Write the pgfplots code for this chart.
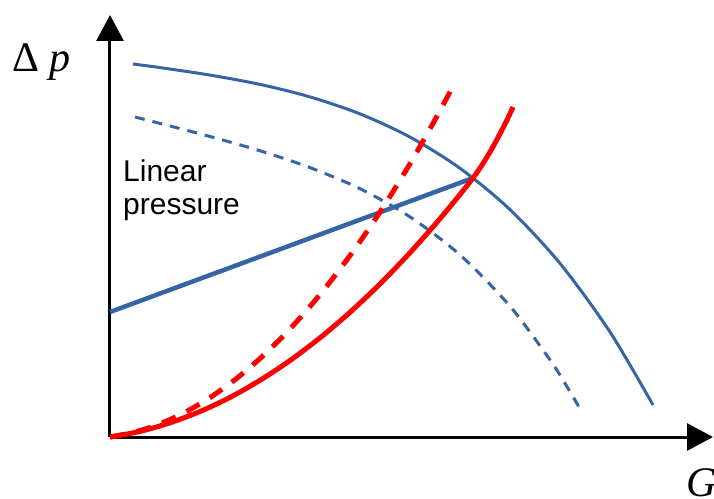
\documentclass[border=0pt]{standalone}
\usepackage{fontspec}
\setmainfont{Liberation Serif}
\newfontfamily\arial{Liberation Sans}
\usepackage{pgfplots}
\pgfplotsset{compat=1.18}
\usetikzlibrary{arrows.meta}
\definecolor{pumpblue}{RGB}{54,101,164}
\begin{document}
\begin{tikzpicture}
\begin{axis}[
    name=ax,
    scale only axis,
    width=603pt, height=422pt,
    xmin=0, xmax=603, ymin=0, ymax=422,
    axis lines=middle,
    axis line style={line width=3pt, -{Triangle[length=26pt,width=27pt]}},
    xtick=\empty, ytick=\empty,
    clip=false,
]
% pump curve, full speed
\addplot[pumpblue, line width=3pt, smooth] coordinates {
  (23,373) (50,369.4) (100,361.9) (150,352.6) (200,340.1) (250,323.1)
  (300,299.9) (350,268.7) (400,227.4) (450,173.6) (500,105) (543,32)};
% pump curve, reduced speed
\addplot[pumpblue, line width=3pt, smooth, dash pattern=on 10pt off 8pt] coordinates {
  (25,320) (50,313.6) (100,300.5) (150,286.2) (200,269.4) (250,248.3)
  (300,220.1) (350,182.1) (400,130.8) (440,77.1) (455,53.7) (469,30)};
% linear pressure line
\addplot[pumpblue, line width=4.5pt] coordinates {(0,125) (363,259)};
% system curve
\addplot[red, line width=5pt, smooth] coordinates {
  (0,0) (30,5.6) (60,14.2) (90,25.5) (120,39.6) (150,56.7) (180,76.5)
  (210,99.2) (240,124.7) (270,153.1) (300,184.3) (330,218.3) (363,259)
  (380,285) (395,313) (403,330)};
% system curve, throttled
\addplot[red, line width=5pt, smooth, dash pattern=on 15pt off 12pt] coordinates {
  (0,0) (25,5) (50,13.2) (75,24.7) (100,39.4) (125,57.3) (150,78.5)
  (175,102.8) (200,130.5) (225,161.4) (250,195.4) (275,232.7) (300,273.3)
  (325,317.2) (345,354.5)};
\node[anchor=base west, inner sep=0pt, font=\fontsize{42}{46}\selectfont] at (axis cs:-98,365) {Δ \textit{p}};
\node[anchor=base west, inner sep=0pt, font=\fontsize{42}{46}\selectfont] at (axis cs:576,-59) {\textit{G}};
\node[anchor=base west, inner sep=0pt, font=\arial\fontsize{30}{33}\selectfont] at (axis cs:13,255) {Linear};
\node[anchor=base west, inner sep=0pt, font=\arial\fontsize{30}{33}\selectfont] at (axis cs:13,222) {pressure};
\end{axis}
\pgfresetboundingbox
\path ([shift={(-110pt,-61pt)}]ax.south west) rectangle ([shift={(1pt,15pt)}]ax.north east);
\end{tikzpicture}
\end{document}
